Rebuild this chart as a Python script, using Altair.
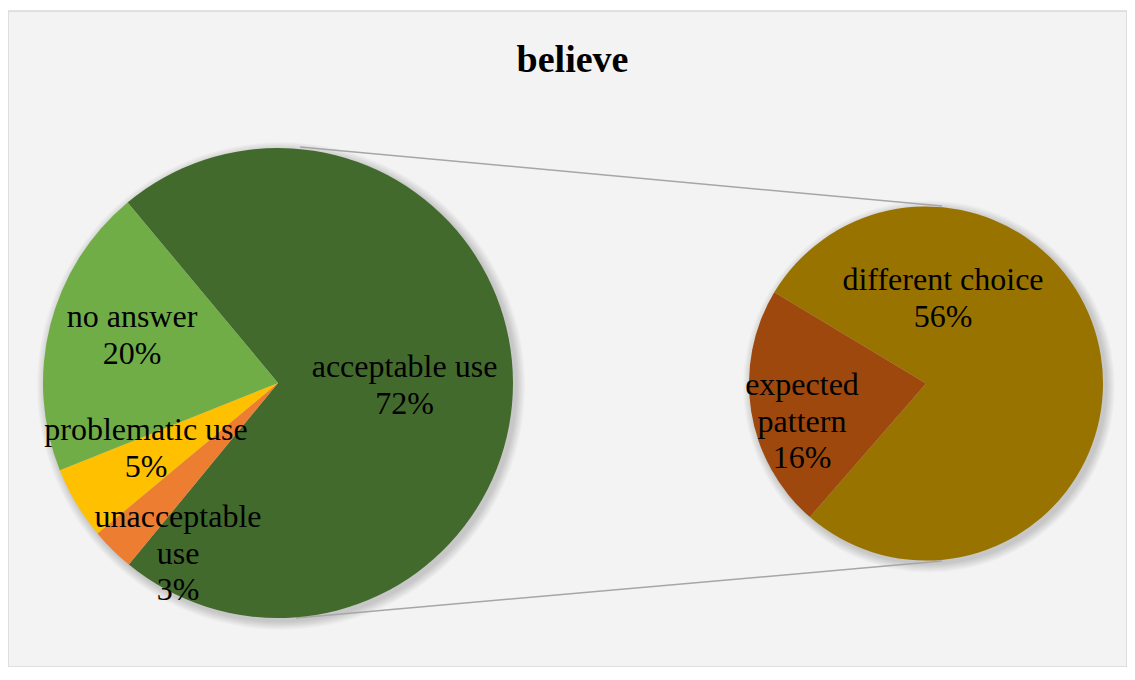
import math
import altair as alt
import pandas as pd

# ---------------- data ----------------
title_text = "believe"
main_categories = ["acceptable use", "unacceptable use", "problematic use", "no answer"]
main_values = [72, 3, 5, 20]
main_colors = ["#436A2D", "#ED7D31", "#FFC000", "#70AD47"]
sub_categories = ["different choice", "expected pattern"]
sub_values = [56, 16]
sub_colors = ["#997300", "#9E480E"]
label_wrap = {"unacceptable use": ["unacceptable", "use"],
              "expected pattern": ["expected", "pattern"]}

main_df = pd.DataFrame({"category": main_categories, "value": main_values,
                        "order": list(range(len(main_categories)))})
sub_df = pd.DataFrame({"category": sub_categories, "value": sub_values,
                       "order": list(range(len(sub_categories)))})
one = pd.DataFrame({"k": [0]})

# ---------------- layout ----------------
W, H = 1119, 656
LEFT_C, LEFT_R = (270, 372), 235
RIGHT_C, RIGHT_R = (918, 372.5), 177
LEFT_START = math.radians(-39.8)
RIGHT_START = math.radians(-59)
FONT = "Liberation Serif"

label_pos = {
    "acceptable use": (396.5, 366),
    "no answer": (124, 316),
    "problematic use": (138, 429),
    "unacceptable use": (170, 516),
    "different choice": (935, 279),
    "expected pattern": (794, 384),
}


def shadow(center, r):
    out = []
    for i in range(1, 10):
        out.append(
            alt.Chart(one)
            .mark_arc(radius=r + i, theta=0, theta2=2 * math.pi, color="black", opacity=0.02)
            .encode(x=alt.value(center[0] + 3), y=alt.value(center[1] + 3))
        )
    return out


def pie(df, cats, colors, center, r, start):
    return (
        alt.Chart(df)
        .mark_arc(radius=r)
        .encode(
            theta=alt.Theta("value:Q", stack=True,
                            scale=alt.Scale(range=[start, start + 2 * math.pi])),
            order=alt.Order("order:Q"),
            color=alt.Color("category:N", scale=alt.Scale(domain=cats, range=colors), legend=None),
            x=alt.value(center[0]),
            y=alt.value(center[1]),
        )
    )


def label(cat, val):
    lines = label_wrap.get(cat, [cat]) + [f"{val}%"]
    pos = label_pos[cat]
    return (
        alt.Chart(one)
        .mark_text(font=FONT, fontSize=32, lineHeight=36.5, align="center",
                   baseline="alphabetic", color="black")
        .encode(x=alt.value(pos[0]), y=alt.value(pos[1]), text=alt.value(lines))
    )


connectors = [
    alt.Chart(one).mark_rule(color="#A6A6A6", strokeWidth=1.5).encode(
        x=alt.value(292), y=alt.value(136), x2=alt.value(934), y2=alt.value(195)),
    alt.Chart(one).mark_rule(color="#A6A6A6", strokeWidth=1.5).encode(
        x=alt.value(288), y=alt.value(607), x2=alt.value(934), y2=alt.value(550)),
]

title = (
    alt.Chart(one)
    .mark_text(font=FONT, fontSize=38, fontWeight="bold", align="center",
               baseline="alphabetic", color="black")
    .encode(x=alt.value(564.5), y=alt.value(61), text=alt.value(title_text))
)

layers = []
layers += shadow(LEFT_C, LEFT_R)
layers += shadow(RIGHT_C, RIGHT_R)
layers += connectors
layers.append(pie(main_df, main_categories, main_colors, LEFT_C, LEFT_R, LEFT_START))
layers.append(pie(sub_df, sub_categories, sub_colors, RIGHT_C, RIGHT_R, RIGHT_START))
for c, v in zip(main_categories, main_values):
    layers.append(label(c, v))
for c, v in zip(sub_categories, sub_values):
    layers.append(label(c, v))
layers.append(title)

chart = (
    alt.layer(*layers)
    .resolve_scale(theta="independent", color="independent")
    .properties(width=W, height=H, background="white",
                padding={"left": 0, "top": 3, "right": 0, "bottom": 0},
                autosize=alt.AutoSizeParams(type="none"))
    .configure_view(fill="#F3F3F3", stroke="#D9D9D9", strokeWidth=1.5)
)

chart.save("out.html", embed_options={"renderer": "svg", "actions": False})
